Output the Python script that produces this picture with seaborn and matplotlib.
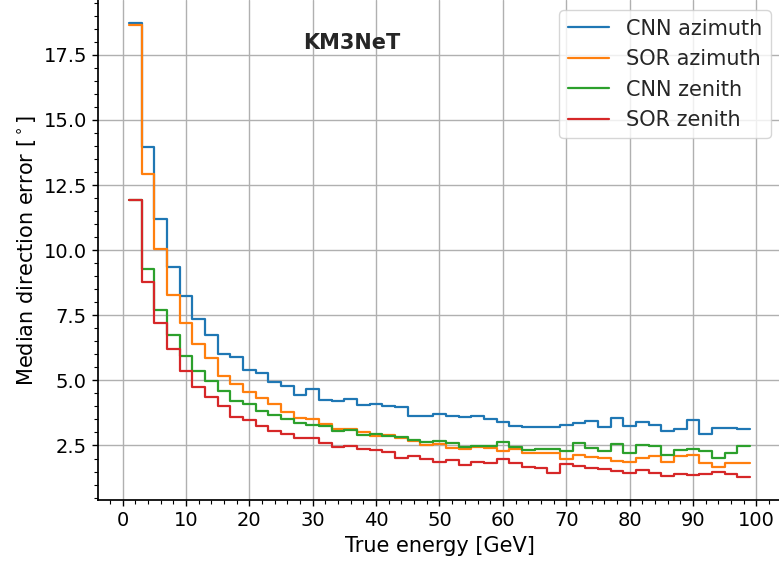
import matplotlib
matplotlib.use("Agg")
import matplotlib.pyplot as plt
import pandas as pd
import seaborn as sns
from matplotlib.ticker import MultipleLocator

# bins of 2 GeV from 1 to 99
bin_edges = list(range(1, 100, 2))
bin_centers = [e + 1 for e in bin_edges[:-1]]

cnn_azimuth = [
    18.73, 13.97, 11.21, 9.37, 8.25, 7.34, 6.76, 6.00, 5.88, 5.39,
    5.27, 4.93, 4.80, 4.42, 4.65, 4.25, 4.21, 4.29, 4.06, 4.10,
    4.00, 3.97, 3.65, 3.65, 3.69, 3.62, 3.59, 3.63, 3.53, 3.40,
    3.25, 3.21, 3.21, 3.21, 3.27, 3.38, 3.44, 3.21, 3.57, 3.25,
    3.40, 3.30, 3.05, 3.15, 3.46, 2.96, 3.17, 3.17, 3.15,
]
sor_azimuth = [
    18.65, 12.92, 10.03, 8.26, 7.21, 6.38, 5.84, 5.18, 4.87, 4.56,
    4.33, 4.10, 3.80, 3.56, 3.53, 3.34, 3.15, 3.15, 3.00, 2.86,
    2.89, 2.77, 2.66, 2.51, 2.54, 2.42, 2.36, 2.45, 2.42, 2.30,
    2.35, 2.20, 2.20, 2.23, 1.98, 2.13, 2.04, 2.01, 1.90, 1.88,
    2.01, 2.09, 1.85, 2.09, 2.13, 1.82, 1.69, 1.82, 1.82,
]
cnn_zenith = [
    11.93, 9.27, 7.72, 6.74, 5.94, 5.37, 4.99, 4.61, 4.21, 4.10,
    3.84, 3.68, 3.52, 3.38, 3.30, 3.23, 3.05, 3.11, 2.89, 2.96,
    2.86, 2.83, 2.73, 2.64, 2.66, 2.58, 2.45, 2.49, 2.49, 2.62,
    2.45, 2.32, 2.35, 2.36, 2.30, 2.58, 2.42, 2.30, 2.54, 2.20,
    2.51, 2.47, 2.13, 2.32, 2.36, 2.30, 2.01, 2.20, 2.47,
]
sor_zenith = [
    11.93, 8.79, 7.21, 6.22, 5.37, 4.74, 4.38, 4.01, 3.59, 3.46,
    3.26, 3.05, 2.96, 2.77, 2.79, 2.60, 2.45, 2.49, 2.36, 2.32,
    2.26, 2.01, 2.11, 1.98, 1.88, 1.94, 1.75, 1.85, 1.82, 1.98,
    1.82, 1.69, 1.65, 1.46, 1.78, 1.73, 1.63, 1.59, 1.54, 1.46,
    1.56, 1.46, 1.33, 1.41, 1.37, 1.41, 1.50, 1.40, 1.28,
]

series = [
    ("CNN azimuth", cnn_azimuth),
    ("SOR azimuth", sor_azimuth),
    ("CNN zenith", cnn_zenith),
    ("SOR zenith", sor_zenith),
]

sns.set_theme(style="ticks", rc={
    "axes.edgecolor": "black",
    "xtick.color": "black",
    "ytick.color": "black",
    "axes.labelcolor": "black",
})
plt.rcParams["font.family"] = ["DejaVu Sans"]

fig = plt.figure(figsize=(7.79, 5.70), dpi=100)
ax = fig.add_axes([98 / 779, 70 / 570, 683 / 779, 500 / 570])

colors = sns.color_palette("tab10", 4)
for (name, vals), c in zip(series, colors):
    df = pd.DataFrame({"energy": bin_centers, "error": vals})
    sns.histplot(data=df, x="energy", weights="error", bins=bin_edges,
                 element="step", fill=False, color=c, linewidth=1.6,
                 label=name, ax=ax)

ax.xaxis.set_major_locator(MultipleLocator(10))
ax.xaxis.set_minor_locator(MultipleLocator(2))
ax.yaxis.set_major_locator(MultipleLocator(2.5))
ax.yaxis.set_minor_locator(MultipleLocator(0.5))
ax.tick_params(which="major", length=4.5, width=1, labelsize=14)
ax.tick_params(which="minor", length=3, width=0.8)
ax.grid(True, which="major", color="#b0b0b0", linewidth=1)
ax.set_axisbelow(True)

ax.set_xlabel("True energy [GeV]", fontsize=15)
ax.set_ylabel(r"Median direction error [$^\circ$]", fontsize=15)
ax.text(0.372, 0.914, "KM3NeT", transform=ax.transAxes, ha="center",
        va="center", fontsize=15, fontweight="bold")
ax.legend(loc="upper right", fontsize=15, frameon=True)
sns.despine(ax=ax)

fig.savefig("out.png", dpi=100)
